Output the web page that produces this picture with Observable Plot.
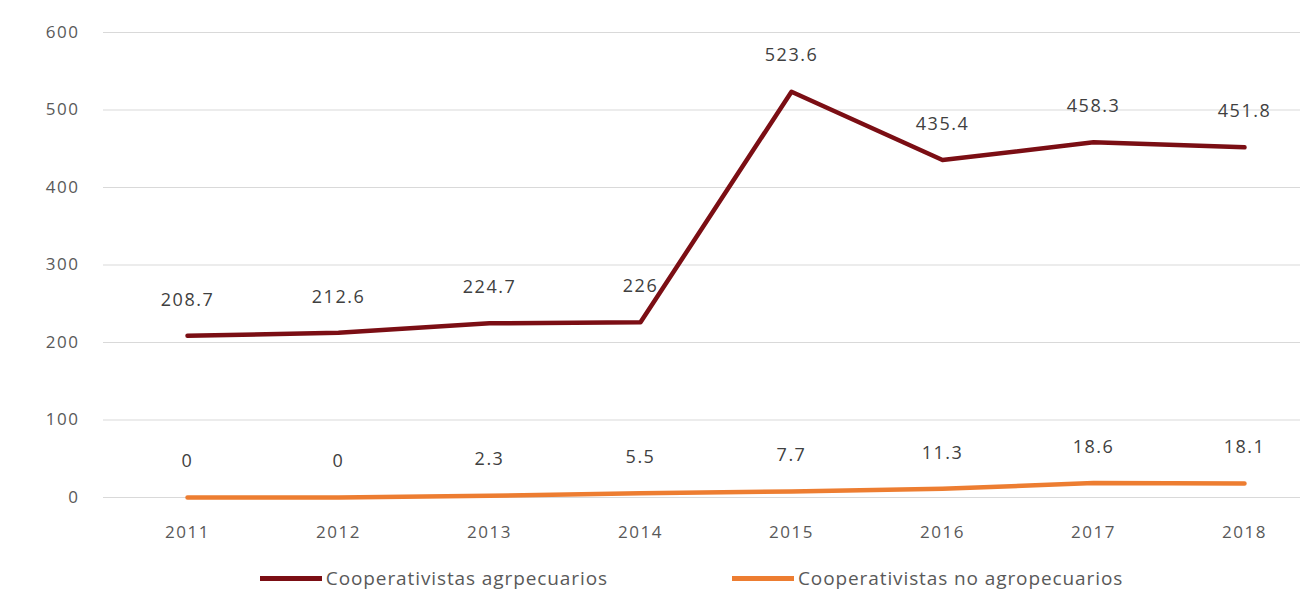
<!DOCTYPE html>
<html><head><meta charset="utf-8">
<script src="https://cdn.jsdelivr.net/npm/d3@7"></script>
<script src="https://cdn.jsdelivr.net/npm/@observablehq/plot@0.6"></script>
<style>
body{margin:0;background:#fff;font-family:"Open Sans",sans-serif;}
#legend{display:flex;justify-content:center;gap:124px;margin-top:10px;font-size:19px;letter-spacing:0.9px;color:#595959;position:relative;left:40px}
.item{display:flex;align-items:center}
.sw{display:inline-block;width:62px;height:5px;margin-right:4px}
svg text{letter-spacing:1.5px}
</style></head><body>
<div id="chart"></div>
<div id="legend"></div>
<script>
const years = ["2011","2012","2013","2014","2015","2016","2017","2018"];
const agro = [208.7,212.6,224.7,226,523.6,435.4,458.3,451.8];
const noAgro = [0,0,2.3,5.5,7.7,11.3,18.6,18.1];
const seriesNames = ["Cooperativistas agrpecuarios","Cooperativistas no agropecuarios"];
const colors = ["#7b0e14","#ed7d31"];
const yTicks = [0,100,200,300,400,500,600];

const data = [];
years.forEach((y,i)=>{
  data.push({year:y,value:agro[i],s:seriesNames[0]});
  data.push({year:y,value:noAgro[i],s:seriesNames[1]});
});

const plot = Plot.plot({
  width:1303, height:555,
  marginLeft:185, marginRight:58, marginTop:32, marginBottom:58,
  style:{fontFamily:"'Open Sans', sans-serif", color:"#595959", background:"#fff"},
  x:{type:"point", domain:years, padding:0, label:null},
  y:{domain:[0,600], ticks:yTicks, label:null},
  color:{domain:seriesNames, range:colors},
  marks:[
    Plot.ruleY(yTicks,{stroke:"#d9d9d9", strokeWidth:1.2, insetLeft:-82, insetRight:-55}),
    Plot.axisY(yTicks,{tickSize:0, tickPadding:0, dx:-106, fontSize:17, fill:"#595959", label:null, textAnchor:"end"}),
    Plot.axisX({tickSize:0, tickPadding:28, fontSize:17, fill:"#595959", label:null}),
    Plot.line(data,{x:"year", y:"value", z:"s", stroke:"s", strokeWidth:4.5, strokeLinejoin:"round"}),
    Plot.text(data,{x:"year", y:"value", text:d=>String(d.value), dy:-36, fontSize:18, fill:"#404040"})
  ]
});
document.getElementById("chart").appendChild(plot);
const lg = document.getElementById("legend");
seriesNames.forEach((n,i)=>{
  const it=document.createElement("div");it.className="item";
  it.innerHTML=`<span class="sw" style="background:${colors[i]}"></span><span>${n}</span>`;
  lg.appendChild(it);
});
</script>
</body></html>
